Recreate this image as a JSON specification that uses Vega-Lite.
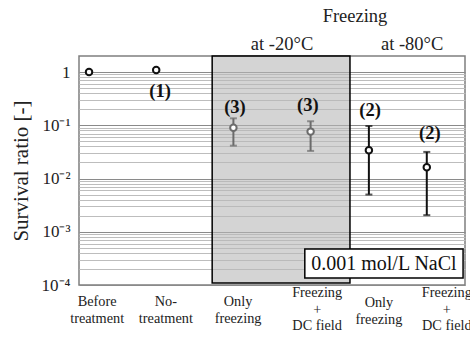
{
  "$schema": "https://vega.github.io/schema/vega-lite/v6.json",
  "width": 386,
  "height": 229,
  "autosize": {"type": "none"},
  "padding": {"left": 79, "top": 56, "right": 5, "bottom": 52},
  "background": "white",
  "config": {
    "view": {"stroke": "#7f7f7f", "strokeWidth": 1.5},
    "font": "Liberation Serif"
  },
  "datasets": {
    "pts": [
      {"cat": "Before treatment", "pos": 0.26, "mean": 1.0, "lo": null, "hi": null, "grp": "base"},
      {"cat": "No-treatment", "pos": 2.0, "mean": 1.09, "lo": null, "hi": null, "grp": "base"},
      {"cat": "Only freezing -20", "pos": 4.0, "mean": 0.09, "lo": 0.0414, "hi": 0.135, "grp": "m20"},
      {"cat": "Freezing + DC field -20", "pos": 6.0, "mean": 0.076, "lo": 0.033, "hi": 0.119, "grp": "m20"},
      {"cat": "Only freezing -80", "pos": 7.51, "mean": 0.034, "lo": 0.005, "hi": 0.097, "grp": "m80"},
      {"cat": "Freezing + DC field -80", "pos": 9.01, "mean": 0.0163, "lo": 0.00205, "hi": 0.0316, "grp": "m80"}
    ],
    "counts": [
      {"x": 2.1, "y": 0.44, "t": "(1)"},
      {"x": 4.04, "y": 0.223, "t": "(3)"},
      {"x": 5.93, "y": 0.24, "t": "(3)"},
      {"x": 7.54, "y": 0.193, "t": "(2)"},
      {"x": 9.09, "y": 0.0715, "t": "(2)"}
    ],
    "cats": [
      {"x": 0.47, "y": 0.0000479, "t": "Before\ntreatment"},
      {"x": 2.25, "y": 0.0000479, "t": "No-\ntreatment"},
      {"x": 4.12, "y": 0.0000479, "t": "Only\nfreezing"},
      {"x": 6.17, "y": 0.0000706, "t": "Freezing\n+\nDC field"},
      {"x": 7.77, "y": 0.0000458, "t": "Only\nfreezing"},
      {"x": 9.53, "y": 0.0000706, "t": "Freezing\n+\nDC field"}
    ],
    "tops": [
      {"x": 7.15, "y": 11.3, "t": "Freezing"},
      {"x": 5.26, "y": 3.36, "t": "at -20°C"},
      {"x": 8.63, "y": 3.36, "t": "at -80°C"}
    ]
  },
  "layer": [
    {
      "data": {"values": [{"x1": 3.45, "x2": 7.02, "y1": 0.000109, "y2": 2}]},
      "mark": {"type": "rect", "fill": "#b7b7b7", "fillOpacity": 0.6, "stroke": "black", "strokeWidth": 1.5},
      "encoding": {
        "x": {"field": "x1", "type": "quantitative", "scale": {"domain": [0, 10], "nice": false, "zero": false}, "axis": null},
        "x2": {"field": "x2"},
        "y": {
          "field": "y1", "type": "quantitative",
          "scale": {"type": "log", "domain": [0.0001, 2], "nice": false},
          "axis": {
            "title": "Survival ratio [-]",
            "titleFont": "Liberation Serif",
            "titleFontSize": 21,
            "titleFontWeight": "normal",
            "titleColor": "#222",
            "titlePadding": 10,
            "labelFont": "Liberation Serif",
            "labelFontSize": 17,
            "labelColor": "#222",
            "labelPadding": 9,
            "ticks": false,
            "domain": false,
            "values": [0.0001, 0.0002, 0.0003, 0.0004, 0.0005, 0.0006, 0.0007, 0.0008, 0.0009,
                       0.001, 0.002, 0.003, 0.004, 0.005, 0.006, 0.007, 0.008, 0.009,
                       0.01, 0.02, 0.03, 0.04, 0.05, 0.06, 0.07, 0.08, 0.09,
                       0.1, 0.2, 0.3, 0.4, 0.5, 0.6, 0.7, 0.8, 0.9, 1],
            "labelExpr": "datum.value == 1 ? '1' : datum.value == 0.1 ? '10⁻¹' : datum.value == 0.01 ? '10⁻²' : datum.value == 0.001 ? '10⁻³' : datum.value == 0.0001 ? '10⁻⁴' : ''",
            "gridColor": {"condition": {"test": "indexof([1, 0.1, 0.01, 0.001, 0.0001], datum.value) >= 0", "value": "#8a8a8a"}, "value": "#bdbdbd"},
            "gridWidth": 1.2,
            "labelOverlap": false
          }
        },
        "y2": {"field": "y2"}
      }
    },
    {
      "data": {"name": "pts"},
      "mark": {"type": "rule", "strokeWidth": 2},
      "encoding": {
        "x": {"field": "pos", "type": "quantitative"},
        "y": {"field": "lo", "type": "quantitative"},
        "y2": {"field": "hi"},
        "color": {"field": "grp", "type": "nominal", "scale": {"domain": ["base", "m20", "m80"], "range": ["#111111", "#6b6b6b", "#111111"]}, "legend": null}
      }
    },
    {
      "data": {"name": "pts"},
      "mark": {"type": "tick", "orient": "horizontal", "size": 7, "thickness": 2},
      "encoding": {
        "x": {"field": "pos", "type": "quantitative"},
        "y": {"field": "lo", "type": "quantitative"},
        "color": {"field": "grp", "type": "nominal", "legend": null}
      }
    },
    {
      "data": {"name": "pts"},
      "mark": {"type": "tick", "orient": "horizontal", "size": 7, "thickness": 2},
      "encoding": {
        "x": {"field": "pos", "type": "quantitative"},
        "y": {"field": "hi", "type": "quantitative"},
        "color": {"field": "grp", "type": "nominal", "legend": null}
      }
    },
    {
      "data": {"name": "pts"},
      "mark": {"type": "point", "shape": "circle", "size": 42, "fill": "white", "fillOpacity": 1, "strokeWidth": 2, "opacity": 1},
      "encoding": {
        "x": {"field": "pos", "type": "quantitative"},
        "y": {"field": "mean", "type": "quantitative"},
        "stroke": {"field": "grp", "type": "nominal", "scale": {"domain": ["base", "m20", "m80"], "range": ["#111111", "#6b6b6b", "#111111"]}, "legend": null}
      }
    },
    {
      "data": {"name": "counts"},
      "mark": {"type": "text", "font": "Liberation Serif", "fontSize": 18.5, "fontWeight": "bold", "color": "#111", "baseline": "middle", "align": "center"},
      "encoding": {
        "x": {"field": "x", "type": "quantitative"},
        "y": {"field": "y", "type": "quantitative"},
        "text": {"field": "t"}
      }
    },
    {
      "data": {"name": "tops"},
      "mark": {"type": "text", "font": "Liberation Serif", "fontSize": 18.5, "color": "#222", "baseline": "middle", "align": "center"},
      "encoding": {
        "x": {"field": "x", "type": "quantitative"},
        "y": {"field": "y", "type": "quantitative"},
        "text": {"field": "t"}
      }
    },
    {
      "data": {"name": "cats"},
      "mark": {"type": "text", "font": "Liberation Serif", "fontSize": 14.3, "color": "#222", "baseline": "middle", "align": "center", "lineBreak": "\n", "lineHeight": 16.7},
      "encoding": {
        "x": {"field": "x", "type": "quantitative"},
        "y": {"field": "y", "type": "quantitative"},
        "text": {"field": "t"}
      }
    },
    {
      "data": {"values": [{"x1": 5.85, "x2": 9.95, "y1": 0.000135, "y2": 0.000473, "xt": 7.9, "yt": 0.000248, "t": "0.001 mol/L NaCl"}]},
      "layer": [
        {
          "mark": {"type": "rect", "fill": "white", "stroke": "black", "strokeWidth": 1.5},
          "encoding": {
            "x": {"field": "x1", "type": "quantitative"},
            "x2": {"field": "x2"},
            "y": {"field": "y1", "type": "quantitative"},
            "y2": {"field": "y2"}
          }
        },
        {
          "mark": {"type": "text", "font": "Liberation Serif", "fontSize": 20, "color": "#111", "baseline": "middle", "align": "center"},
          "encoding": {
            "x": {"field": "xt", "type": "quantitative"},
            "y": {"field": "yt", "type": "quantitative"},
            "text": {"field": "t"}
          }
        }
      ]
    }
  ]
}
